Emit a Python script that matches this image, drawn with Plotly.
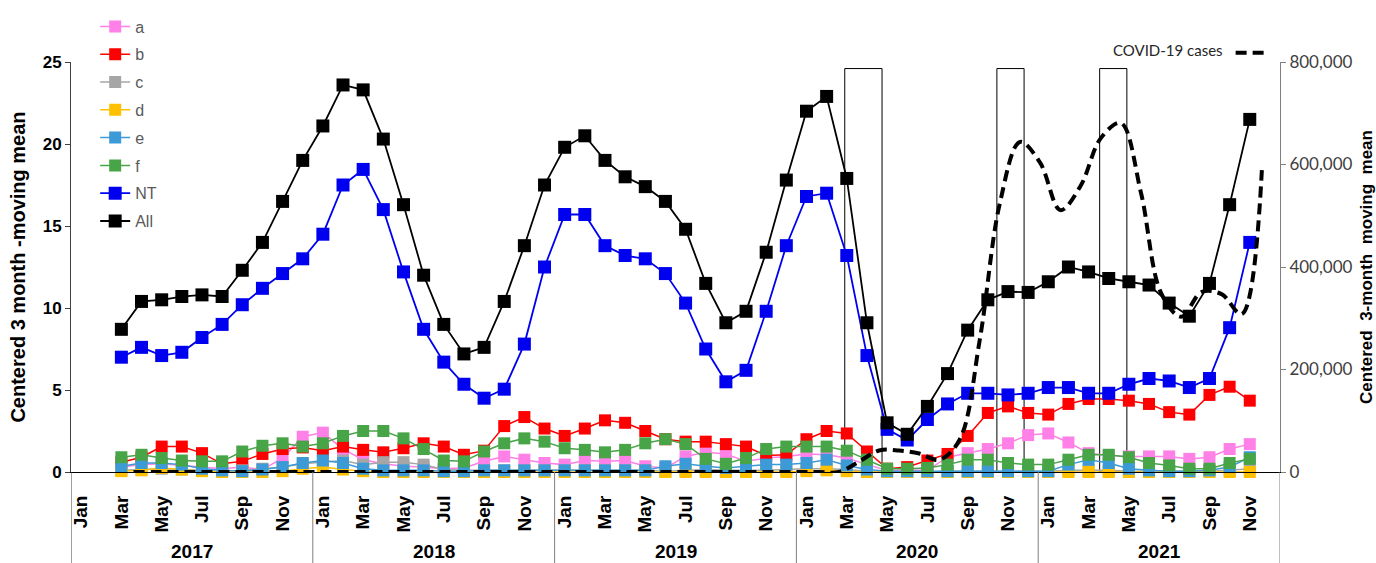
import plotly.graph_objects as go

# ---------------- data ----------------
years = ["2017", "2018", "2019", "2020", "2021"]
month_ticks = ["Jan", "Mar", "May", "Jul", "Sep", "Nov"]
tick_labels = month_ticks * 5
# month index 0 = Jan 2017; series run from Mar 2017 (2) to Nov 2021 (58)
month_index = list(range(2, 59))

a = [0.3, 0.45, 0.5, 0.4, 0.3, 0.2, 0.3, 0.15, 0.85, 2.15,
     2.4, 1.4, 0.75, 0.5, 0.35, 0.3, 0.2, 0.25, 0.65, 0.95, 0.75, 0.55,
     0.45, 0.7, 0.65, 0.7, 0.35, 0.25, 0.95, 1.2, 1.1, 0.65, 0.85, 0.95,
     1.1, 1.05, 0.85, 0.45, 0.1, 0.1, 0.1, 0.9, 1.15, 1.4, 1.75, 2.25,
     2.35, 1.8, 1.15, 1.0, 0.95, 0.95, 0.95, 0.8, 0.9, 1.4, 1.7]
b = [0.6, 0.9, 1.55, 1.55, 1.15, 0.5, 0.65, 1.1, 1.4, 1.5,
     1.3, 1.55, 1.35, 1.2, 1.45, 1.75, 1.55, 1.05, 1.3, 2.8, 3.35, 2.65,
     2.2, 2.65, 3.15, 3.0, 2.5, 2.0, 1.85, 1.85, 1.7, 1.55, 1.0, 1.05,
     2.0, 2.5, 2.35, 1.25, 0.2, 0.3, 0.7, 1.1, 2.2, 3.6, 4.0, 3.6,
     3.5, 4.15, 4.45, 4.45, 4.35, 4.15, 3.65, 3.5, 4.7, 5.2, 4.35]
c = [0.1, 0.15, 0.2, 0.15, 0.1, 0.05, 0.1, 0.2, 0.3, 0.5,
     0.6, 0.7, 0.45, 0.6, 0.6, 0.45, 0.15, 0.1, 0.1, 0.1, 0.1, 0.1,
     0.1, 0.1, 0.1, 0.1, 0.1, 0.05, 0.1, 0.15, 0.1, 0.1, 0.1, 0.15,
     0.2, 0.2, 0.15, 0.05, 0.0, 0.0, 0.0, 0.05, 0.05, 0.05, 0.05, 0.05,
     0.05, 0.1, 0.1, 0.1, 0.05, 0.05, 0.05, 0.05, 0.05, 0.1, 0.2]
d = [0.05, 0.1, 0.25, 0.15, 0.05, 0.0, 0.0, 0.0, 0.05, 0.2,
     0.3, 0.15, 0.05, 0.0, 0.0, 0.0, 0.0, 0.0, 0.0, 0.0, 0.0, 0.0,
     0.0, 0.0, 0.0, 0.0, 0.0, 0.0, 0.0, 0.0, 0.0, 0.0, 0.0, 0.0,
     0.05, 0.1, 0.05, 0.0, 0.0, 0.0, 0.0, 0.0, 0.0, 0.0, 0.0, 0.0,
     0.0, 0.0, 0.0, 0.0, 0.0, 0.0, 0.0, 0.0, 0.0, 0.0, 0.0]
e = [0.35, 0.55, 0.55, 0.45, 0.2, 0.1, 0.05, 0.15, 0.3, 0.55,
     0.7, 0.55, 0.2, 0.1, 0.1, 0.1, 0.05, 0.05, 0.1, 0.1, 0.1, 0.1,
     0.1, 0.1, 0.1, 0.1, 0.1, 0.35, 0.5, 0.35, 0.25, 0.35, 0.45, 0.45,
     0.55, 0.75, 0.4, 0.15, 0.05, 0.05, 0.05, 0.05, 0.05, 0.05, 0.05, 0.05,
     0.05, 0.45, 0.75, 0.55, 0.2, 0.1, 0.05, 0.05, 0.1, 0.3, 0.9]
f = [0.9, 1.05, 0.85, 0.7, 0.65, 0.65, 1.25, 1.6, 1.75, 1.55,
     1.75, 2.2, 2.5, 2.5, 2.05, 1.4, 0.7, 0.65, 1.25, 1.75, 2.05, 1.85,
     1.45, 1.35, 1.2, 1.35, 1.75, 2.0, 1.7, 0.8, 0.5, 0.85, 1.4, 1.55,
     1.55, 1.55, 1.3, 0.75, 0.2, 0.2, 0.25, 0.45, 0.75, 0.75, 0.55, 0.45,
     0.45, 0.75, 1.05, 1.05, 0.9, 0.55, 0.4, 0.2, 0.2, 0.55, 0.8]
nt = [7.0, 7.6, 7.1, 7.3, 8.2, 9.0, 10.2, 11.2, 12.1, 13.0,
      14.5, 17.5, 18.45, 16.0, 12.2, 8.7, 6.7, 5.35, 4.5, 5.05, 7.8, 12.5,
      15.7, 15.7, 13.8, 13.2, 13.0, 12.1, 10.3, 7.5, 5.5, 6.2, 9.8, 13.8,
      16.8, 17.0, 13.2, 7.1, 2.6, 1.95, 3.2, 4.15, 4.8, 4.8, 4.7, 4.8,
      5.15, 5.15, 4.8, 4.8, 5.35, 5.7, 5.55, 5.15, 5.7, 8.8, 14.0]
all_ = [8.7, 10.4, 10.5, 10.7, 10.8, 10.7, 12.3, 14.0, 16.5, 19.0,
        21.1, 23.6, 23.3, 20.3, 16.3, 12.0, 9.0, 7.2, 7.6, 10.4, 13.8, 17.5,
        19.8, 20.5, 19.0, 18.0, 17.4, 16.5, 14.8, 11.5, 9.1, 9.8, 13.4, 17.8,
        22.0, 22.9, 17.9, 9.1, 3.0, 2.3, 4.0, 6.0, 8.65, 10.5, 11.0, 10.95,
        11.6, 12.5, 12.2, 11.8, 11.6, 11.4, 10.3, 9.5, 11.5, 16.3, 21.5]
covid_cases = [0] * 36 + [
    20000, 42000, 42000, 36000, 24000, 63000, 258000, 525000, 644000, 603000,
    511000, 558000, 651000, 681000, 545000, 349000, 303000, 351000, 347000, 308000, 589000]

# ---------------- styling ----------------
FONT = "Arial, Liberation Sans, sans-serif"
FONT2 = "Lato, Open Sans, sans-serif"
covid_offset = 0.6
series = [
    ("a", a, "#FF80E6", 1.5, 12),
    ("b", b, "#FF0000", 1.5, 12),
    ("c", c, "#A6A6A6", 1.5, 12),
    ("d", d, "#FFC000", 1.5, 12),
    ("e", e, "#3C9AD6", 1.5, 12),
    ("f", f, "#47A447", 1.5, 12),
    ("NT", nt, "#0000F0", 1.8, 13),
    ("All", all_, "#000000", 1.8, 13),
]

fig = go.Figure()
for name, vals, color, lw, ms in series:
    fig.add_trace(go.Scatter(
        x=month_index, y=vals, name=name, mode="lines+markers",
        legendgroup=name, cliponaxis=False,
        line=dict(color=color, width=lw),
        marker=dict(symbol="square", size=ms, color=color),
    ))

fig.add_trace(go.Scatter(
    x=[m + covid_offset for m in month_index], y=covid_cases, name=" ",
    mode="lines", yaxis="y2", legend="legend2", cliponaxis=False,
    line=dict(color="black", width=4, dash="11px,6px", shape="spline", smoothing=1),
))

shapes = []
# highlight boxes
for x0, x1 in [(37.9, 39.75), (45.45, 46.8), (50.55, 51.9)]:
    shapes.append(dict(type="rect", xref="x", yref="y", x0=x0, x1=x1, y0=0, y1=24.6,
                       line=dict(color="black", width=1), fillcolor="rgba(0,0,0,0)", layer="below"))
# category table separators
for xv, col in [(-0.5, "#404040"), (11.5, "#7F7F7F"), (23.5, "#7F7F7F"), (35.5, "#7F7F7F"),
                (47.5, "#7F7F7F"), (59.5, "#7F7F7F")]:
    shapes.append(dict(type="line", xref="x", yref="paper", x0=xv, x1=xv, y0=0, y1=-0.23,
                       line=dict(color=col, width=1)))

annotations = []
for i, yr in enumerate(years):
    annotations.append(dict(text=yr, x=i * 12 + 5.5, y=-0.195, xref="x", yref="paper",
                            showarrow=False, font=dict(family=FONT, size=19, color="black", weight="bold"),
                            xanchor="center", yanchor="middle"))

fig.update_layout(
    width=1376, height=563,
    margin=dict(l=71, r=96, t=62, b=91, autoexpand=False),
    plot_bgcolor="white", paper_bgcolor="white",
    showlegend=True,
    xaxis=dict(range=[-0.5, 59.5], tickmode="array", tickvals=list(range(0, 60, 2)),
               ticktext=tick_labels, tickangle=-90, showgrid=False, zeroline=False,
               showline=True, linecolor="black", linewidth=1, automargin=False,
               ticks="outside", ticklen=15, tickcolor="rgba(0,0,0,0)",
               tickfont=dict(family=FONT, size=19, color="black", weight="bold")),
    yaxis=dict(range=[0, 25], tickmode="array", tickvals=[0, 5, 10, 15, 20, 25],
               showgrid=False, zeroline=False, showline=True, linecolor="#404040", linewidth=1,
               ticks="outside", ticklen=5, tickcolor="#404040", automargin=False,
               tickfont=dict(family=FONT, size=17, color="black", weight="bold"),
               title=dict(text="Centered 3 month -moving mean", standoff=11,
                          font=dict(family=FONT, size=20, color="black", weight="bold"))),
    yaxis2=dict(range=[0, 800000], overlaying="y", side="right", tickmode="array",
                tickvals=[0, 200000, 400000, 600000, 800000], tickformat=",",
                showgrid=False, zeroline=False, showline=True, linecolor="#7F7F7F", linewidth=1,
                ticks="outside", ticklen=5, tickcolor="#7F7F7F", automargin=False,
                tickfont=dict(family=FONT2, size=17, color="#404040"),
                title=dict(text="Centered  3-month  moving  mean", standoff=9,
                           font=dict(family=FONT, size=17, color="black", weight="bold"))),
    legend=dict(x=0.02, y=1.128, xanchor="left", yanchor="top", bgcolor="rgba(0,0,0,0)",
                tracegroupgap=4, font=dict(family=FONT, size=16, color="#595959")),
    legend2=dict(x=1.0, y=1.022, xanchor="right", yanchor="middle", bgcolor="rgba(0,0,0,0)",
                 title=dict(text="COVID-19 cases", side="left",
                            font=dict(family=FONT2, size=15, color="#262626")),
                 font=dict(family=FONT2, size=15, color="#262626")),
    shapes=shapes,
    annotations=annotations,
)

fig.write_html("out.html")
